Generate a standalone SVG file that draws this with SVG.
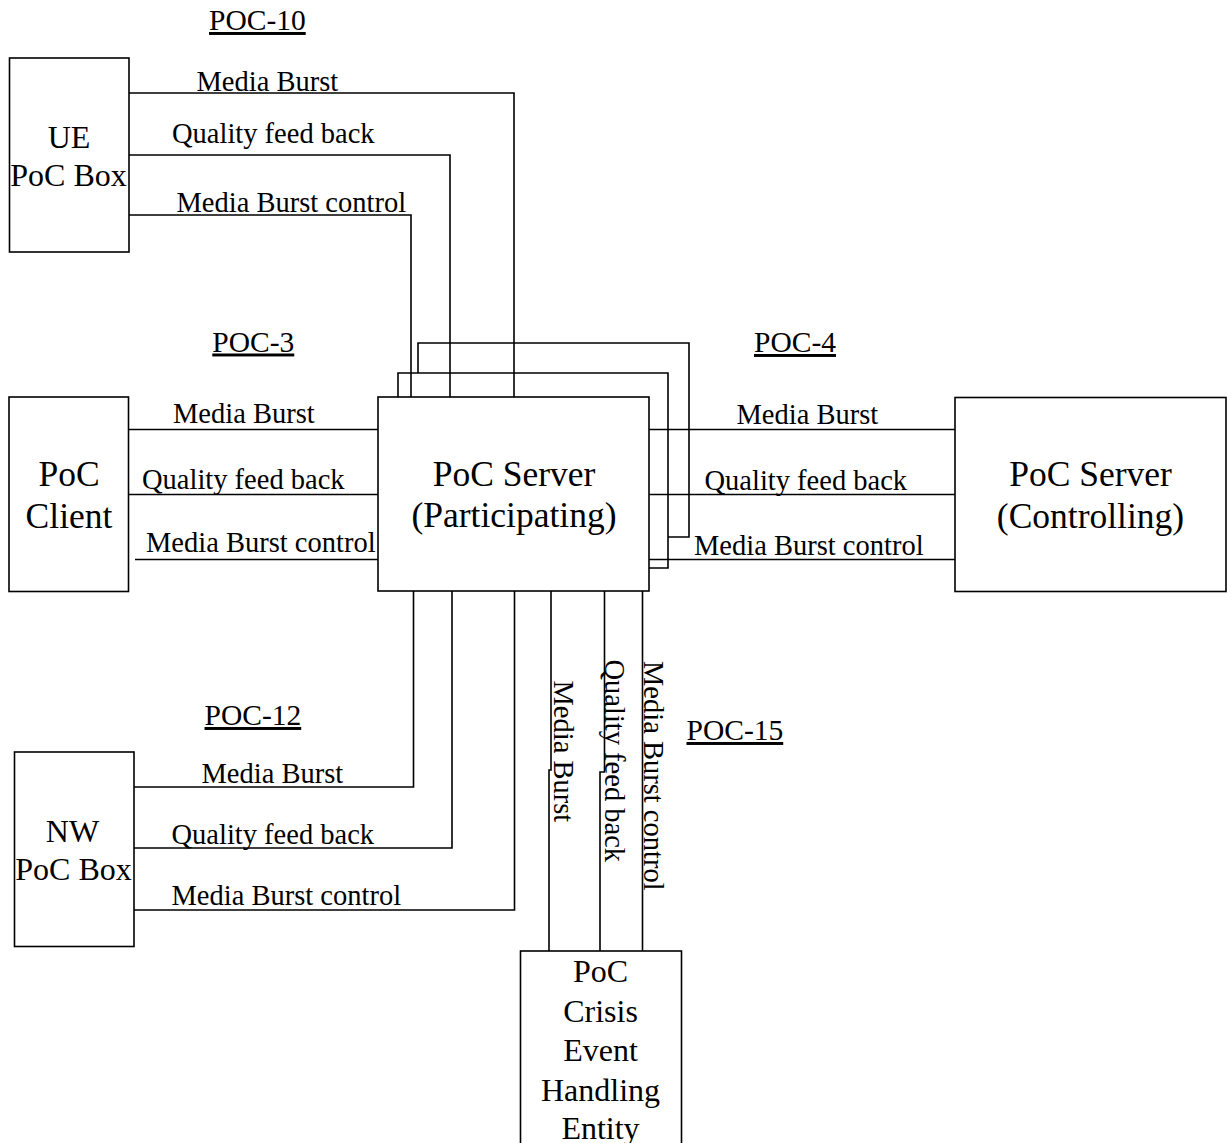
<svg xmlns="http://www.w3.org/2000/svg" width="1227" height="1143" viewBox="0 0 1227 1143">
<style>
.box{fill:#fff;stroke:#000;stroke-width:1.6}
.wire{fill:none;stroke:#000;stroke-width:1.6}
text{font-family:"Liberation Serif","Times New Roman",serif;fill:#000}
.nt{font-size:35.5px;text-anchor:middle}
.ns{font-size:32px;text-anchor:middle}
.lb{font-size:28.5px}
.poc{font-size:29.5px;text-decoration:underline}
</style>
<rect width="1227" height="1143" fill="#fff"/>
<g id="connectors">
<path class="wire" d="M129,93 H514 V397"/>
<path class="wire" d="M129,155 H450 V397"/>
<path class="wire" d="M129,215 H411 V397"/>
<path class="wire" d="M418,373 V343 H689 V537 H668"/>
<path class="wire" d="M398,397 V373 H668 V568 H649"/>
<path class="wire" d="M128,429.5 H378"/>
<path class="wire" d="M128,494.5 H378"/>
<path class="wire" d="M135,559.5 H383"/>
<path class="wire" d="M649,429.5 H955"/>
<path class="wire" d="M649,494.5 H955"/>
<path class="wire" d="M649,559.5 H955"/>
<path class="wire" d="M134,787 H413.5 V591"/>
<path class="wire" d="M134,848 H452 V591"/>
<path class="wire" d="M134,910 H514.5 V591"/>
<path class="wire" d="M551,591 V770 H549 V951"/>
<path class="wire" d="M604.5,591 V772 H600 V951"/>
<path class="wire" d="M642.5,591 V951"/>
</g>
<g id="labels">
<text class="poc" x="209" y="30">POC-10</text>
<text class="lb" x="196.5" y="90.5">Media Burst</text>
<text class="lb" x="172" y="142.5">Quality feed back</text>
<text class="lb" x="176.5" y="211.5">Media Burst control</text>
<text class="poc" x="212.3" y="351.5">POC-3</text>
<text class="lb" x="173" y="423">Media Burst</text>
<text class="lb" x="142" y="489">Quality feed back</text>
<text class="lb" x="146" y="552">Media Burst control</text>
<text class="poc" x="754" y="352">POC-4</text>
<text class="lb" x="736.5" y="424">Media Burst</text>
<text class="lb" x="704.5" y="490">Quality feed back</text>
<text class="lb" x="694" y="555">Media Burst control</text>
<text class="poc" x="204.5" y="725">POC-12</text>
<text class="lb" x="201.5" y="782.5">Media Burst</text>
<text class="lb" x="171.5" y="843.5">Quality feed back</text>
<text class="lb" x="171.5" y="905">Media Burst control</text>
<text class="poc" x="686.5" y="740">POC-15</text>
<text class="lb" transform="translate(553.5,680.5) rotate(90)">Media Burst</text>
<text class="lb" transform="translate(605,659.5) rotate(90)">Quality feed back</text>
<text class="lb" transform="translate(643.5,661) rotate(90)">Media Burst control</text>
</g>
<g id="ue-poc-box">
<rect class="box" x="9.5" y="58" width="119.5" height="194"/>
<text class="ns" x="69" y="148">UE</text>
<text class="ns" x="68.5" y="186">PoC Box</text>
</g>
<g id="poc-client">
<rect class="box" x="9" y="397" width="119.5" height="194.5"/>
<text class="nt" x="69" y="486">PoC</text>
<text class="nt" x="69" y="528">Client</text>
</g>
<g id="poc-server-participating">
<rect class="box" x="378" y="397" width="271" height="194"/>
<text class="nt" x="514" y="486">PoC Server</text>
<text class="nt" x="514" y="527">(Participating)</text>
</g>
<g id="poc-server-controlling">
<rect class="box" x="955" y="397.5" width="271" height="194"/>
<text class="nt" x="1090.5" y="486">PoC Server</text>
<text class="nt" x="1090.5" y="528">(Controlling)</text>
</g>
<g id="nw-poc-box">
<rect class="box" x="14.5" y="752" width="119.5" height="194.5"/>
<text class="ns" x="72.5" y="842">NW</text>
<text class="ns" x="73.5" y="880">PoC Box</text>
</g>
<g id="crisis-entity">
<rect class="box" x="520.5" y="951" width="161" height="210"/>
<text class="ns" x="600.5" y="982">PoC</text>
<text class="ns" x="600.5" y="1021.5">Crisis</text>
<text class="ns" x="600.5" y="1061">Event</text>
<text class="ns" x="600.5" y="1100.5">Handling</text>
<text class="ns" x="600.5" y="1139">Entity</text>
</g>
</svg>
